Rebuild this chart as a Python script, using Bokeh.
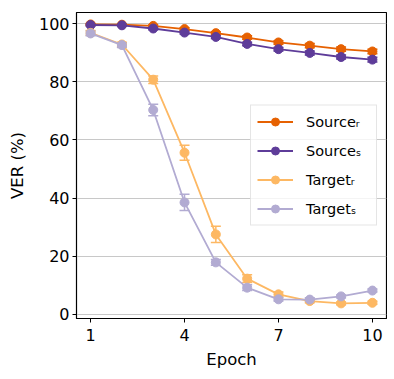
import math
from bokeh.plotting import figure
from bokeh.models import (ColumnDataSource, Whisker, TeeHead, Legend, LegendItem,
                          FixedTicker, Range1d)
from bokeh.embed import file_html
from bokeh.resources import INLINE

epochs = [1, 2, 3, 4, 5, 6, 7, 8, 9, 10]
source_r = [99.7, 99.6, 99.2, 98.1, 96.7, 95.2, 93.5, 92.4, 91.2, 90.4]
source_r_err = [0.3, 0.3, 0.4, 0.5, 0.5, 0.6, 0.6, 0.7, 0.7, 0.8]
source_s = [99.5, 99.4, 98.3, 96.9, 95.4, 93.0, 91.2, 89.9, 88.5, 87.6]
source_s_err = [0.3, 0.3, 0.4, 0.5, 0.5, 0.6, 0.6, 0.7, 0.7, 0.8]
target_r = [96.8, 92.8, 80.7, 55.6, 27.5, 12.3, 6.9, 4.6, 3.8, 4.0]
target_r_err = [0.8, 0.8, 1.3, 2.6, 2.8, 1.3, 0.8, 0.6, 0.5, 0.5]
target_s = [96.6, 92.6, 70.3, 38.5, 17.9, 9.2, 5.2, 5.1, 6.2, 8.2]
target_s_err = [0.8, 0.8, 2.0, 2.8, 1.0, 1.0, 0.6, 0.6, 0.5, 0.5]

labels = ["Source\u1d63", "Source\u209b", "Target\u1d63", "Target\u209b"]
colors = ["#e66101", "#5e3c99", "#fdb863", "#b2abd2"]
series = [(source_r, source_r_err), (source_s, source_s_err),
          (target_r, target_r_err), (target_s, target_s_err)]
x_ticks = [1, 4, 7, 10]
y_ticks = [0, 20, 40, 60, 80, 100]

FONT = "DejaVu Sans"

p = figure(width=387, height=371, output_backend="svg", toolbar_location=None,
           x_range=Range1d(0.55, 10.45), y_range=Range1d(-1.4, 103.8),
           min_border_left=76, min_border_right=1, min_border_top=12, min_border_bottom=53)
p.background_fill_color = "white"
p.border_fill_color = "white"
p.outline_line_color = "black"
p.outline_line_width = 1.2

p.xgrid.visible = False
p.ygrid.grid_line_color = "#c8c8c8"
p.ygrid.grid_line_width = 1
p.ygrid.ticker = FixedTicker(ticks=y_ticks)

for ax in (p.xaxis[0], p.yaxis[0]):
    ax.axis_line_color = "black"
    ax.major_tick_line_color = "black"
    ax.major_tick_out = 4
    ax.major_tick_in = 0
    ax.minor_tick_line_color = None
    ax.major_label_text_font = FONT
    ax.major_label_text_font_size = "16px"
    ax.major_label_text_color = "black"
    ax.axis_label_text_font = FONT
    ax.axis_label_text_font_size = "16.5px"
    ax.axis_label_text_font_style = "normal"
    ax.axis_label_text_color = "black"

p.xaxis.ticker = FixedTicker(ticks=x_ticks)
p.yaxis.ticker = FixedTicker(ticks=y_ticks)
p.xaxis.axis_label = "Epoch"
p.yaxis.axis_label = "VER (%)"
p.xaxis.major_label_standoff = 6
p.xaxis.axis_label_standoff = 6
p.yaxis.major_label_standoff = 3
p.yaxis.axis_label_standoff = 9

items = []
for (vals, errs), lab, col in zip(series, labels, colors):
    src = ColumnDataSource(dict(x=epochs, y=vals,
                                lo=[v - e for v, e in zip(vals, errs)],
                                hi=[v + e for v, e in zip(vals, errs)]))
    w = Whisker(source=src, base="x", lower="lo", upper="hi",
                line_color=col, line_width=1.5,
                lower_head=TeeHead(size=10, line_color=col, line_width=1.5),
                upper_head=TeeHead(size=10, line_color=col, line_width=1.5))
    p.add_layout(w)
    r_line = p.line("x", "y", source=src, line_color=col, line_width=1.8)
    r_pt = p.scatter("x", "y", source=src, marker="circle", size=9,
                     fill_color=col, line_color=col)
    r_bar = p.scatter(x=[], y=[], marker="dash", angle=math.pi / 2, size=16,
                      line_color=col, line_width=1.5)
    items.append(LegendItem(label=lab, renderers=[r_line, r_bar, r_pt]))

legend = Legend(items=items, location="center_right")
legend.label_text_font = FONT
legend.label_text_font_size = "14.5px"
legend.label_text_color = "black"
legend.glyph_width = 36
legend.glyph_height = 20
legend.label_height = 20
legend.label_width = 64
legend.spacing = 9
legend.padding = 6
legend.margin = 9
legend.label_standoff = 13
legend.border_line_color = "#cccccc"
legend.border_line_width = 1
legend.background_fill_alpha = 0.8
p.add_layout(legend)

open("out.html", "w").write(file_html(p, INLINE))
